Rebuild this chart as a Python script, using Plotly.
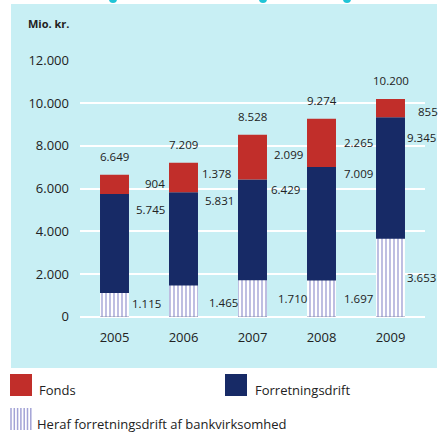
import plotly.graph_objects as go

# ---- data ----
years = ["2005", "2006", "2007", "2008", "2009"]
fonds = [904, 1378, 2099, 2265, 855]
forretningsdrift = [5745, 5831, 6429, 7009, 9345]
bankvirksomhed = [1115, 1465, 1710, 1697, 3653]
totals = [6649, 7209, 8528, 9274, 10200]
y_ticks = [0, 2000, 4000, 6000, 8000, 10000, 12000]

# ---- label nudges (pixels, styling only) ----
fonds_dx = [28, 16, 19, 20, 25]
fonds_dy = [1, 4, 3, 0, -3]
forr_dx = [19, 19, 16, 20, 14]
forr_dy = [-15, -8, -10, -6, -20]
bank_dx = [15, 23, 23, 20, 14]
bank_dy = [1, -1, 0, 0, 0]

RED = "#c12e2a"
NAVY = "#172a66"
CYAN = "#c8eff4"
HATCH = "#a3a3d6"
TXT = "#222222"
FONT = "Open Sans"

W, H = 444, 438


def fmt(v):
    return f"{v:,}".replace(",", ".")


def px(x):
    return x / W


def py(y):
    return 1 - y / H


fig = go.Figure()
bw = 0.42
fig.add_trace(go.Bar(x=years, y=forretningsdrift, base=[0] * 5, width=bw,
                     marker=dict(color=NAVY, line=dict(width=0)),
                     name="Forretningsdrift", showlegend=False, hoverinfo="skip"))
fig.add_trace(go.Bar(x=years, y=fonds, base=forretningsdrift, width=bw,
                     marker=dict(color=RED, line=dict(width=0)),
                     name="Fonds", showlegend=False, hoverinfo="skip"))
fig.add_trace(go.Bar(x=years, y=bankvirksomhed, base=[0] * 5, width=bw,
                     marker=dict(color="white", line=dict(width=0),
                                 pattern=dict(shape="|", fgcolor=HATCH, bgcolor="white",
                                              size=4, solidity=0.35, fillmode="replace")),
                     name="Heraf forretningsdrift af bankvirksomhed", showlegend=False,
                     hoverinfo="skip"))

ann = []
for i, yr in enumerate(years):
    ann.append(dict(x=i, y=totals[i], text=fmt(totals[i]), showarrow=False,
                    xanchor="center", yanchor="middle", yshift=18))
    ann.append(dict(x=i, y=forretningsdrift[i] + fonds[i] / 2, text=fmt(fonds[i]),
                    showarrow=False, xanchor="left", yanchor="middle",
                    xshift=fonds_dx[i], yshift=fonds_dy[i]))
    ann.append(dict(x=i, y=forretningsdrift[i], text=fmt(forretningsdrift[i]),
                    showarrow=False, xanchor="left", yanchor="middle",
                    xshift=forr_dx[i], yshift=forr_dy[i]))
    ann.append(dict(x=i, y=bankvirksomhed[i] / 2, text=fmt(bankvirksomhed[i]),
                    showarrow=False, xanchor="left", yanchor="middle",
                    xshift=bank_dx[i], yshift=bank_dy[i]))
for a in ann:
    a["font"] = dict(family=FONT, size=11.5, color=TXT)

# unit label
ann.append(dict(xref="paper", yref="paper", x=px(26), y=py(23), text="<b>Mio. kr.</b>",
                showarrow=False, xanchor="left", yanchor="middle",
                font=dict(family=FONT, size=11, color=TXT)))

# legend texts
leg_font = dict(family=FONT, size=13, color=TXT)
ann.append(dict(xref="paper", yref="paper", x=px(37), y=py(390), text="Fonds",
                showarrow=False, xanchor="left", yanchor="middle", font=leg_font))
ann.append(dict(xref="paper", yref="paper", x=px(253), y=py(390), text="Forretningsdrift",
                showarrow=False, xanchor="left", yanchor="middle", font=leg_font))
ann.append(dict(xref="paper", yref="paper", x=px(35), y=py(424),
                text="Heraf forretningsdrift af bankvirksomhed",
                showarrow=False, xanchor="left", yanchor="middle", font=leg_font))

shapes = [
    dict(type="rect", xref="paper", yref="paper", x0=px(11), x1=px(437), y0=py(368), y1=py(4),
         fillcolor=CYAN, line=dict(width=0), layer="below"),
    dict(type="rect", xref="paper", yref="paper", x0=px(10), x1=px(32), y0=py(396), y1=py(374),
         fillcolor=RED, line=dict(width=0)),
    dict(type="rect", xref="paper", yref="paper", x0=px(225), x1=px(247), y0=py(396), y1=py(374),
         fillcolor=NAVY, line=dict(width=0)),
    dict(type="rect", xref="paper", yref="paper", x0=px(10), x1=px(32), y0=py(430), y1=py(408),
         fillcolor="white", line=dict(width=0)),
]
for k in range(7):
    xx = 11 + k * 3.3
    shapes.append(dict(type="line", xref="paper", yref="paper", x0=px(xx), x1=px(xx),
                       y0=py(430), y1=py(408), line=dict(color=HATCH, width=1.5)))
for cx in [113, 263, 347]:
    shapes.append(dict(type="circle", xref="paper", yref="paper", x0=px(cx - 4), x1=px(cx + 4),
                       y0=py(3), y1=py(-5), fillcolor="#1fc4d6", line=dict(width=0)))

fig.update_layout(
    width=W, height=H,
    margin=dict(l=0, r=0, t=0, b=0, autoexpand=False),
    paper_bgcolor="white",
    plot_bgcolor="rgba(0,0,0,0)",
    barmode="overlay",
    showlegend=False,
    hovermode=False,
    annotations=ann,
    shapes=shapes,
    font=dict(family=FONT, size=12, color=TXT),
    xaxis=dict(domain=[px(80), px(425)], type="category", range=[-0.5, 4.5],
               showgrid=False, showline=False, zeroline=False, ticks="", automargin=False,
               tickfont=dict(family=FONT, size=13, color=TXT), ticklabelstandoff=11),
    yaxis=dict(domain=[py(316.7), py(60.5)], range=[0, 12000], automargin=False,
               tickvals=y_ticks, ticktext=[fmt(v) for v in y_ticks],
               showgrid=True, gridcolor="white", gridwidth=2,
               zeroline=True, zerolinecolor="white", zerolinewidth=2,
               showline=False, ticks="",
               tickfont=dict(family=FONT, size=13, color=TXT), ticklabelstandoff=10),
)

fig.write_html("out.html", config={"displayModeBar": False, "staticPlot": True},
               post_script="document.body.style.margin='0';document.body.style.overflow='hidden';")
